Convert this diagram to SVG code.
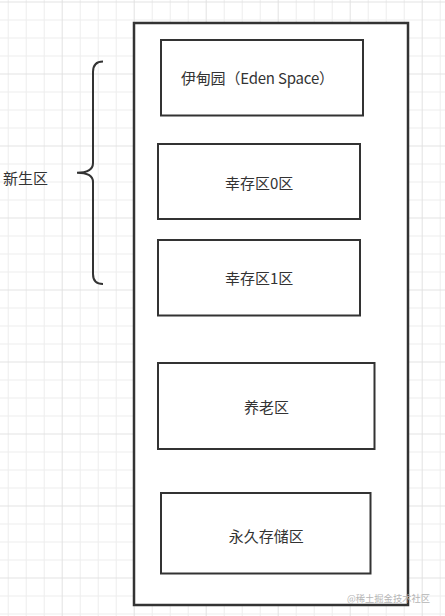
<svg xmlns="http://www.w3.org/2000/svg" width="445" height="616" viewBox="0 0 445 616">
<defs>
<pattern id="grid" patternUnits="userSpaceOnUse" x="-10.3" y="1.5" width="72" height="72">
<rect x="0" y="0" width="72" height="72" fill="#ffffff"/>
<g fill="#ededed">
<rect x="18" y="0" width="1" height="72"/>
<rect x="36" y="0" width="1" height="72"/>
<rect x="54" y="0" width="1" height="72"/>
<rect x="0" y="18" width="72" height="1"/>
<rect x="0" y="36" width="72" height="1"/>
<rect x="0" y="54" width="72" height="1"/>
</g>
<g fill="#e2e2e2">
<rect x="0" y="0" width="1" height="72"/>
<rect x="0" y="0" width="72" height="1"/>
</g>
</pattern>
<style>
.box{fill:#ffffff;stroke:#333333;stroke-width:2}
.outer{fill:#ffffff;stroke:#333333;stroke-width:2.5}
.lbl{font-family:"Microsoft YaHei","Noto Sans CJK SC",sans-serif;font-size:15px;fill:#333333;dominant-baseline:central}
.mid{text-anchor:middle}
.brace{fill:none;stroke:#333333;stroke-width:2}
.wm{font-family:"Noto Sans CJK SC",sans-serif;font-size:9.5px;fill:#b5b5b5}
</style>
</defs>
<rect x="0" y="0" width="445" height="616" fill="url(#grid)"/>
<g id="heap">
<rect class="outer" x="134" y="23" width="274" height="582"/>
</g>
<g id="eden">
<rect class="box" x="161" y="40" width="202" height="75.5"/>
<text class="lbl" x="181" y="77" textLength="153" lengthAdjust="spacing">伊甸园（Eden Space）</text>
</g>
<g id="survivor0">
<rect class="box" x="158" y="144" width="202" height="75"/>
<text class="lbl mid" x="259.2" y="182.7">幸存区0区</text>
</g>
<g id="survivor1">
<rect class="box" x="158" y="240" width="202" height="75.5"/>
<text class="lbl mid" x="259.2" y="277.7">幸存区1区</text>
</g>
<g id="old">
<rect class="box" x="158" y="363" width="216.5" height="86"/>
<text class="lbl mid" x="266.5" y="406">养老区</text>
</g>
<g id="permanent">
<rect class="box" x="161" y="493" width="209.5" height="80.5"/>
<text class="lbl mid" x="266.3" y="535">永久存储区</text>
</g>
<g id="young">
<text class="lbl" x="3" y="177">新生区</text>
</g>
<g id="connectors">
<path class="brace" d="M103,61.5 Q93,61.5 93,72 L93,163 Q93,172.7 77,172.7 Q93,172.7 93,182 L93,274 Q93,284 103,284"/>
</g>
<text class="wm" x="347" y="602" textLength="83" lengthAdjust="spacingAndGlyphs">@稀土掘金技术社区</text>
</svg>
